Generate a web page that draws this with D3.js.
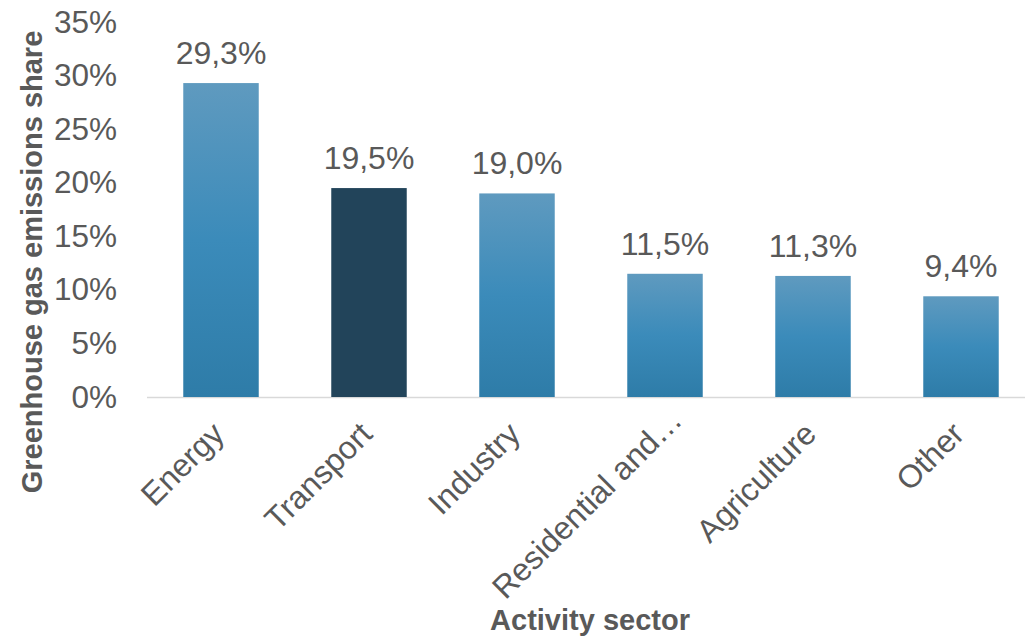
<!DOCTYPE html>
<html>
<head>
<meta charset="utf-8">
<script src="https://cdn.jsdelivr.net/npm/d3@7"></script>
<style>
  html, body { margin: 0; padding: 0; background: #ffffff; }
  svg { display: block; }
  text { font-family: "Liberation Sans", Arial, sans-serif; fill: #595959; }
</style>
</head>
<body>
<svg id="chart" width="1025" height="639"></svg>
<script>
// Greenhouse gas emission share by activity sector
const sectors = ["Energy", "Transport", "Industry", "Residential and…", "Agriculture", "Other"];
const shares = [29.3, 19.5, 19.0, 11.5, 11.3, 9.4];
const valueLabels = ["29,3%", "19,5%", "19,0%", "11,5%", "11,3%", "9,4%"];
const yTicks = [0, 5, 10, 15, 20, 25, 30, 35];
const highlighted = ["Transport"];

const svg = d3.select("#chart");
const W = 1025, H = 639;
const margin = { left: 147, right: -10, top: 22, bottom: 242 };

const x = d3.scaleBand()
  .domain(sectors)
  .range([margin.left, W - margin.right])
  .paddingInner(0.49)
  .paddingOuter(0.245);

const y = d3.scaleLinear()
  .domain([0, 35])
  .range([H - margin.bottom, margin.top]);

// vertical gradient used by the regular bars
const defs = svg.append("defs");
const grad = defs.append("linearGradient")
  .attr("id", "barGrad")
  .attr("x1", 0).attr("y1", 0).attr("x2", 0).attr("y2", 1);
grad.append("stop").attr("offset", "0%").attr("stop-color", "#5f9abf");
grad.append("stop").attr("offset", "50%").attr("stop-color", "#3b8bba");
grad.append("stop").attr("offset", "100%").attr("stop-color", "#2e7ca8");

// baseline
svg.append("line")
  .attr("x1", margin.left).attr("x2", W)
  .attr("y1", y(0) + 0.5).attr("y2", y(0) + 0.5)
  .attr("stroke", "#d9d9d9").attr("stroke-width", 1.5);

// y axis (labels only)
const yAxis = d3.axisLeft(y)
  .tickValues(yTicks)
  .tickFormat(d => d + "%")
  .tickSize(0)
  .tickPadding(0);
const yG = svg.append("g")
  .attr("transform", `translate(117,0)`)
  .call(yAxis);
yG.select(".domain").remove();
yG.selectAll("text")
  .style("font-size", "31.5px")
  .attr("fill", "#595959")
  .attr("font-family", "Liberation Sans, Arial, sans-serif");

// bars
svg.selectAll("rect.bar")
  .data(sectors)
  .join("rect")
  .attr("class", "bar")
  .attr("x", d => x(d))
  .attr("width", x.bandwidth())
  .attr("y", (d, i) => y(shares[i]))
  .attr("height", (d, i) => y(0) - y(shares[i]))
  .attr("fill", d => highlighted.includes(d) ? "#22445a" : "url(#barGrad)");

// value labels
svg.selectAll("text.val")
  .data(sectors)
  .join("text")
  .attr("class", "val")
  .attr("x", d => x(d) + x.bandwidth() / 2)
  .attr("y", (d, i) => y(shares[i]) - 19)
  .attr("text-anchor", "middle")
  .style("font-size", "32px")
  .text((d, i) => valueLabels[i]);

// x axis category labels, rotated; truncated labels sit a little further out
const xAxis = d3.axisBottom(x).tickSize(0).tickPadding(0);
const xG = svg.append("g")
  .attr("transform", `translate(0,${y(0)})`)
  .call(xAxis);
xG.select(".domain").remove();
xG.selectAll("text")
  .attr("y", 0)
  .attr("dy", 0)
  .attr("text-anchor", "end")
  .attr("transform", d => d.endsWith("…")
    ? "translate(19,25) rotate(-45)"
    : "translate(5,39) rotate(-45)")
  .attr("fill", "#595959")
  .attr("font-family", "Liberation Sans, Arial, sans-serif")
  .style("font-size", "32px");

// axis titles
svg.append("text")
  .attr("transform", `translate(42,${262}) rotate(-90)`)
  .attr("text-anchor", "middle")
  .style("font-size", "29px")
  .style("font-weight", "bold")
  .text("Greenhouse gas emissions share");

svg.append("text")
  .attr("x", 590)
  .attr("y", 630)
  .attr("text-anchor", "middle")
  .style("font-size", "29px")
  .style("font-weight", "bold")
  .text("Activity sector");
</script>
</body>
</html>
